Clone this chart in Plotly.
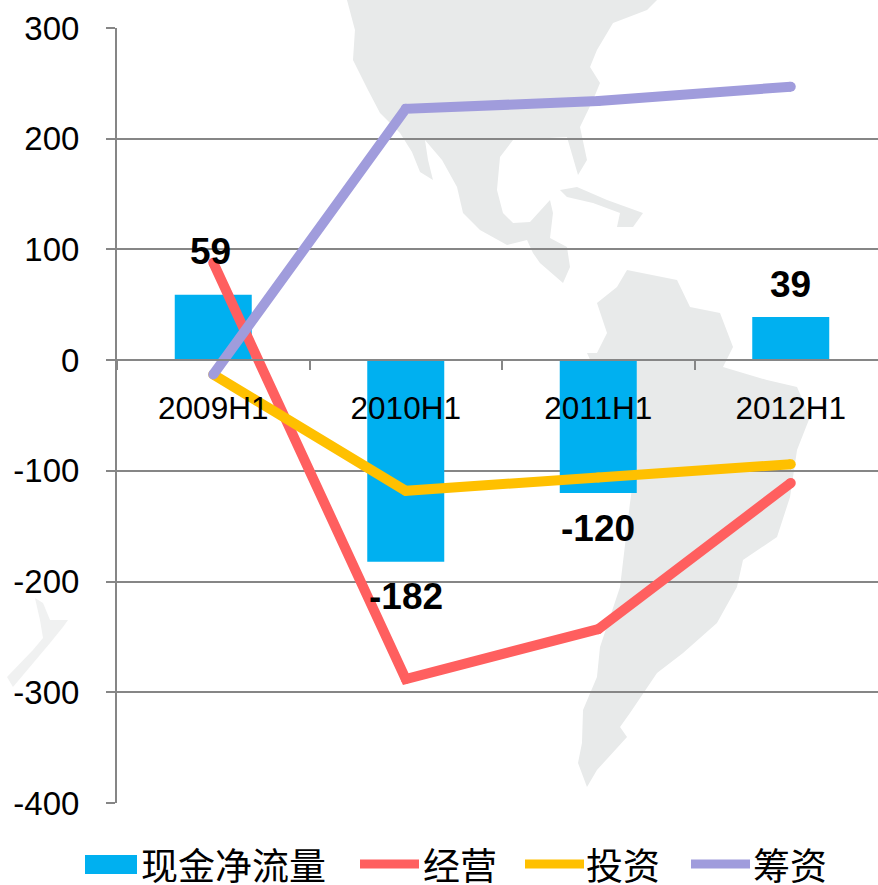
import plotly.graph_objects as go

categories = ["2009H1", "2010H1", "2011H1", "2012H1"]
net_cash = [59, -182, -120, 39]
operating = [88, -288, -243, -111]
investing = [-13, -118, -106, -94]
financing = [-13, 227, 234, 247]
y_ticks = [300, 200, 100, 0, -100, -200, -300, -400]
legend_names = ["现金净流量", "经营", "投资", "筹资"]

BLUE, RED, YEL, PUR = "#00B0F0", "#FF5F5F", "#FFC000", "#A09CDC"
GRID = "#868686"
W, H = 878, 885
L, T, B = 117, 28, 803   # page pixels
PW, PH = W - L, B - T


def px(x):
    return (x - L) / PW


def py(y):
    return (B - y) / PH


def poly(points, color):
    path = "M" + " L".join(f"{px(a):.4f},{py(b):.4f}" for a, b in points) + " Z"
    return dict(type="path", xref="paper", yref="paper", path=path, fillcolor=color,
                line=dict(width=0), layer="below")


# background map decoration (pixel outlines)
north_america = [(347, 0), (355, 30), (353, 60), (368, 90), (380, 113), (400, 133), (412, 152), (420, 172),
                 (433, 180), (428, 160), (425, 140), (442, 160), (457, 187), (463, 213), (480, 230), (507, 245),
                 (527, 240), (533, 253), (540, 263), (563, 283), (570, 267), (567, 247), (550, 238), (553, 213),
                 (550, 200), (530, 222), (513, 223), (503, 213), (497, 190), (500, 157), (513, 140), (567, 137),
                 (578, 175), (587, 160), (580, 127), (593, 100), (600, 83), (590, 67), (597, 50), (613, 23),
                 (647, 10), (657, 0)]
cuba = [(560, 190), (577, 187), (607, 200), (643, 213), (633, 227), (617, 227), (620, 213), (593, 203), (567, 197)]
south_america = [(627, 270), (617, 287), (597, 303), (607, 333), (597, 353), (587, 353), (610, 403), (637, 453),
                 (630, 503), (620, 587), (600, 647), (597, 677), (583, 710), (582, 743), (578, 763), (587, 787),
                 (597, 770), (627, 737), (620, 727), (630, 713), (657, 673), (683, 653), (717, 623), (737, 587),
                 (743, 560), (777, 537), (790, 497), (797, 450), (810, 417), (797, 387), (767, 380), (723, 367),
                 (733, 347), (720, 313), (690, 307), (677, 280)]
new_zealand = [(7, 677), (33, 650), (43, 638), (40, 620), (35, 598), (43, 603), (50, 620), (68, 620), (63, 627),
               (50, 643), (13, 687)]

shapes = [poly(north_america, "#E8EAEA"), poly(cuba, "#E8EAEA"), poly(south_america, "#E8EAEA"),
          poly(new_zealand, "#F0F1F1")]

fig = go.Figure()
fig.add_bar(x=categories, y=net_cash, name=legend_names[0], marker=dict(color=BLUE, line=dict(width=0)), width=0.4)
for name, vals, col in zip(legend_names[1:], [operating, investing, financing], [RED, YEL, PUR]):
    fig.add_scatter(x=categories, y=vals, name=name, mode="lines+markers", line=dict(color=col, width=10),
                    marker=dict(color=col, size=10))

# bar value labels
label_shift = [43, -35, -35, 32]
annotations = [dict(x=c, y=v, text=f"<b>{v}</b>", showarrow=False, yshift=s, xshift=-3 if i == 0 else 0,
                    font=dict(family="Liberation Sans", size=37, color="black"))
               for i, (c, v, s) in enumerate(zip(categories, net_cash, label_shift))]

# legend row
swatches = [(85, 137, BLUE), (360, 419, RED), (525, 584, YEL), (691, 750, PUR)]
text_x = [139, 421, 584, 751]
for (a, b, col), name, tx in zip(swatches, legend_names, text_x):
    if col == BLUE:
        shapes.append(dict(type="rect", xref="paper", yref="paper", x0=px(a), x1=px(b), y0=py(855), y1=py(874),
                           fillcolor=col, line=dict(width=0)))
    else:
        shapes.append(dict(type="line", xref="paper", yref="paper", x0=px(a), x1=px(b), y0=py(864), y1=py(864),
                           line=dict(color=col, width=9)))
    annotations.append(dict(xref="paper", yref="paper", x=px(tx), y=py(864), text=name, showarrow=False,
                            xanchor="left", yanchor="middle",
                            font=dict(family="Noto Sans CJK SC", size=37, color="black")))

fig.update_layout(
    width=W, height=H, margin=dict(l=L, r=0, t=T, b=H - B, pad=0),
    paper_bgcolor="white", plot_bgcolor="rgba(0,0,0,0)", showlegend=False,
    shapes=shapes, annotations=annotations,
    xaxis=dict(type="category", categoryorder="array", categoryarray=categories,
               range=[-0.5, -0.5 + PW / 192.5], anchor="free", position=(B - 360) / PH,
               showgrid=False, zeroline=False, showline=True, linecolor=GRID, linewidth=2,
               ticks="outside", ticklen=9, tickwidth=2, tickcolor=GRID, tickson="boundaries",
               ticklabelstandoff=20,
               tickfont=dict(family="Liberation Sans", size=31.5, color="black")),
    yaxis=dict(range=[-400, 300], tickvals=y_ticks, ticktext=[str(v) for v in y_ticks],
               showgrid=True, gridcolor=GRID, gridwidth=2, zeroline=False, showline=True, linecolor=GRID,
               linewidth=2, ticks="outside", ticklen=9, tickwidth=2, tickcolor=GRID, ticklabelstandoff=20,
               tickfont=dict(family="Liberation Sans", size=33, color="black")),
)
fig.write_html("out.html", config={"displayModeBar": False}, post_script="document.body.style.margin='0';")
